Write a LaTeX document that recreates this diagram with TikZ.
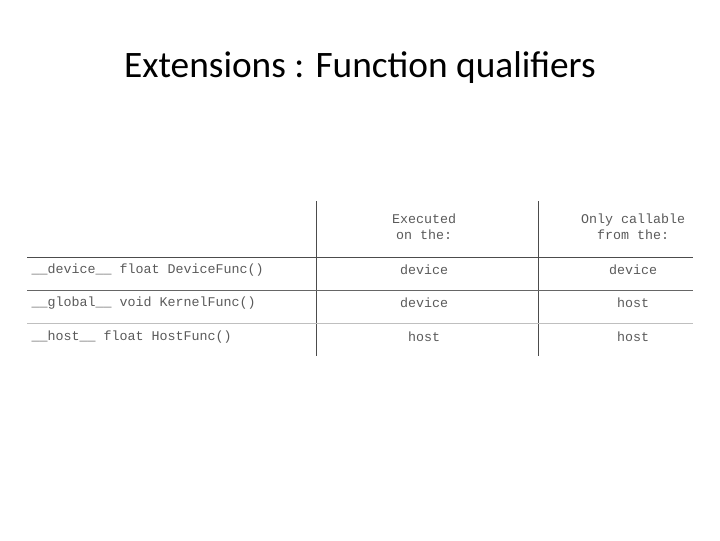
\documentclass[tikz,border=0pt]{standalone}
\usepackage{fontspec}
\setmainfont{Carlito}
\setmonofont{Liberation Mono}
\begin{document}
\tikzset{every picture/.style={line width=0.75pt}}
\definecolor{cellgray}{RGB}{90,90,90}
\tikzset{cell/.style={inner sep=0.75pt,font=\ttfamily\fontsize{10}{12}\selectfont,text=cellgray,align=center}}

\begin{tikzpicture}[x=0.75pt,y=0.75pt,yscale=-1,xscale=1]
		\useasboundingbox (0,0) rectangle (720,540);

		% Title
		\draw (360,68) node [inner sep=0.75pt,font=\fontsize{28}{32}\selectfont] (title) {Extensions : Function qualifiers};

		%Straight Lines [id:col1] 
		\draw [color=black!70]   (316,201) -- (316,356) ;
		%Straight Lines [id:col2] 
		\draw [color=black!70]   (538,201) -- (538,356) ;
		%Straight Lines [id:row1] 
		\draw [color=black!70]   (27,257) -- (693,257) ;
		%Straight Lines [id:row2] 
		\draw [color=black!60]   (27,290) -- (693,290) ;
		%Straight Lines [id:row3] 
		\draw [color=black!25]   (27,323) -- (693,323) ;

		% Text Node
		\draw (424,227) node [cell] (hexec) {Executed\\on the:};
		% Text Node
		\draw (633,227) node [cell] (hcall) {Only callable\\from the:};
		% Text Node
		\draw (30,270) node [cell,anchor=west] (fdev) {\_\_device\_\_ float DeviceFunc()};
		\draw (424,270) node [cell] (edev) {device};
		\draw (633,270) node [cell] (cdev) {device};
		% Text Node
		\draw (30,303) node [cell,anchor=west] (fglob) {\_\_global\_\_ void KernelFunc()};
		\draw (424,303) node [cell] (eglob) {device};
		\draw (633,303) node [cell] (cglob) {host};
		% Text Node
		\draw (30,337) node [cell,anchor=west] (fhost) {\_\_host\_\_  float HostFunc()};
		\draw (424,337) node [cell] (ehost) {host};
		\draw (633,337) node [cell] (chost) {host};

	\end{tikzpicture}
\end{document}
